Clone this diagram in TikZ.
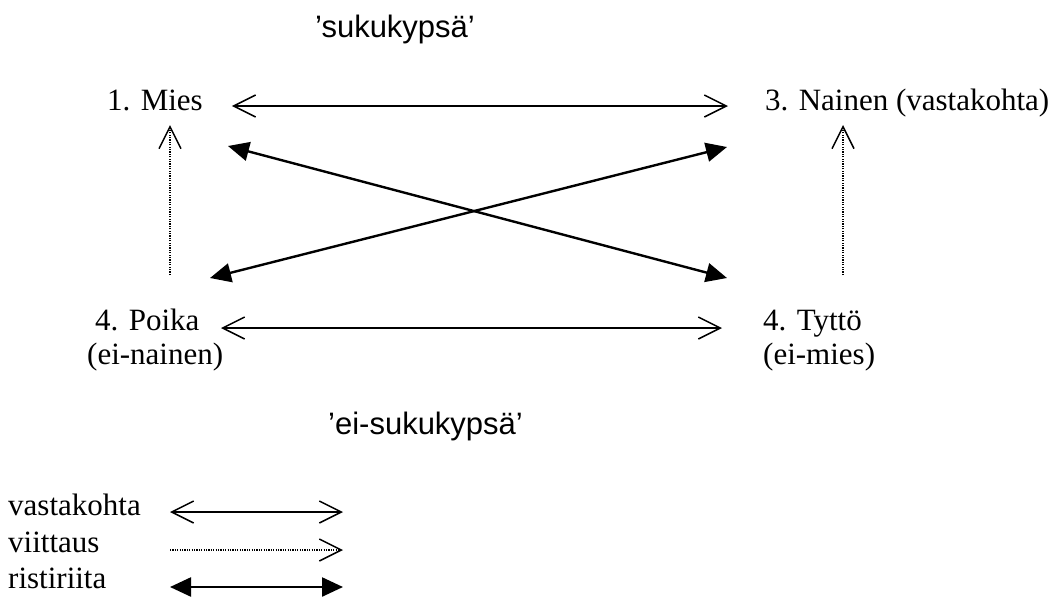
\documentclass[tikz,border=0pt]{standalone}
\usepackage{fontspec}
\setmainfont{Liberation Serif}
\newfontfamily\arialfont{Liberation Sans}
\usetikzlibrary{arrows.meta,positioning}

\tikzset{
  lbl/.style={anchor=base west, inner sep=0pt, font=\fontsize{31}{34}\selectfont},
  qlbl/.style={anchor=base west, inner sep=0pt, font=\arialfont\fontsize{31}{34}\selectfont},
  barb/.tip={Straight Barb[length=22pt,width=22pt,line width=1.5pt]},
  wedge/.tip={Triangle[length=21pt,width=19pt]},
  opposite/.style={line width=1.5pt, barb-barb},
  pointer/.style={line width=1.2pt, dash pattern=on 1.2pt off 1.2pt, -barb},
  clash/.style={line width=2.4pt, wedge-wedge},
}

\begin{document}
\begin{tikzpicture}[x=1pt,y=-1pt]
  \useasboundingbox (0,0) rectangle (1058,598);
  % the square of opposition
  \node[qlbl] (top) at (315,37) {’sukukypsä’};
  \node[lbl] (mies) at (107,110) {1. Mies};
  \node[lbl] (nainen) at (765,110) {3. Nainen (vastakohta)};
  \node[lbl] (poika) at (95,330) {4. Poika};
  \node[lbl] (poikab) at (87,364) {(ei-nainen)};
  \node[lbl] (tytto) at (763,330) {4. Tyttö};
  \node[lbl] (tyttob) at (763,364) {(ei-mies)};
  \node[qlbl] (bottom) at (328,434) {’ei-sukukypsä’};

  \draw[opposite] ([xshift=29pt,yshift=4pt]mies.base east) -- ([xshift=-37pt,yshift=4pt]nainen.base west);
  \draw[opposite] ([xshift=126pt,yshift=2pt]poika.base west) -- ([xshift=-41pt,yshift=2pt]tytto.base west);
  \draw[pointer] ([xshift=75pt,yshift=55pt]poika.base west) -- ([xshift=63pt,yshift=-15pt]mies.base west);
  \draw[pointer] ([xshift=80pt,yshift=55pt]tytto.base west) -- ([xshift=78pt,yshift=-15pt]nainen.base west);
  \draw[clash] ([xshift=121pt,yshift=-36pt]mies.base west) -- ([xshift=-36pt,yshift=52pt]tytto.base west);
  \draw[clash] ([xshift=115pt,yshift=52pt]poika.base west) -- ([xshift=-38pt,yshift=-37pt]nainen.base west);

  % legend
  \node[lbl] (kvasta) at (8,515) {vastakohta};
  \node[lbl] (kviitt) at (8,552) {viittaus};
  \node[lbl] (kristi) at (8,588) {ristiriita};
  \draw[opposite] ([xshift=162pt,yshift=3pt]kvasta.base west) -- ([xshift=335pt,yshift=3pt]kvasta.base west);
  \draw[pointer] ([xshift=162pt,yshift=2pt]kviitt.base west) -- ([xshift=335pt,yshift=2pt]kviitt.base west);
  \draw[clash] ([xshift=162pt,yshift=1pt]kristi.base west) -- ([xshift=335pt,yshift=1pt]kristi.base west);
\end{tikzpicture}
\end{document}
